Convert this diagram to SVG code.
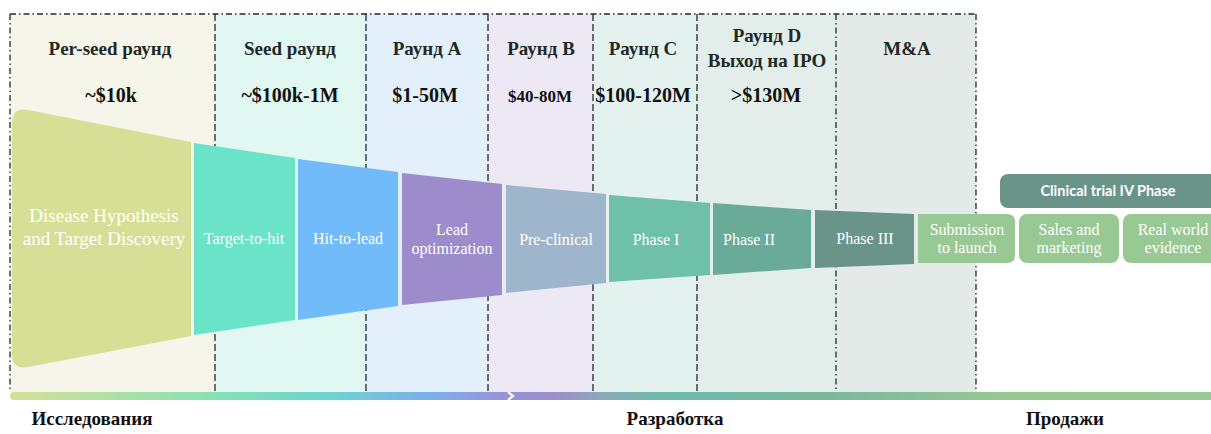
<svg xmlns="http://www.w3.org/2000/svg" width="1211" height="434" viewBox="0 0 1211 434">
<defs>
<style>
.hdr{font-family:"Liberation Serif","Times New Roman",serif;font-weight:bold;font-size:19px;fill:#1f2a26;text-anchor:middle}
.amt{font-family:"Liberation Serif","Times New Roman",serif;font-weight:bold;font-size:20px;fill:#111;text-anchor:middle}
.lbl{font-family:"Liberation Serif","Times New Roman",serif;font-size:16px;fill:#ffffff;text-anchor:middle}
.big{font-size:19px}
.stage{font-family:"Liberation Serif","Times New Roman",serif;font-weight:bold;font-size:19px;fill:#111;text-anchor:middle}
.div{stroke:#1f2a2e;stroke-width:1.3;fill:none;stroke-dasharray:7 3}
.dd{stroke:#1f2a2e;stroke-width:1.3;fill:none;stroke-dasharray:6 3 1.5 3}
.ct{font-family:Lato,"Open Sans",sans-serif;font-weight:bold;font-size:14.5px;fill:#ffffff;text-anchor:middle}
</style>
<linearGradient id="barg" x1="10" y1="0" x2="1211" y2="0" gradientUnits="userSpaceOnUse">
<stop offset="0" stop-color="#d6df96"/>
<stop offset="0.16" stop-color="#8ae2b2"/>
<stop offset="0.26" stop-color="#6dd5cd"/>
<stop offset="0.35" stop-color="#7ab0ec"/>
<stop offset="0.41" stop-color="#9a92d8"/>
<stop offset="0.45" stop-color="#9d8ecc"/>
<stop offset="0.50" stop-color="#88aabb"/>
<stop offset="0.54" stop-color="#6cbba8"/>
<stop offset="0.68" stop-color="#7ab89e"/>
<stop offset="0.83" stop-color="#96c892"/>
<stop offset="1" stop-color="#98c893"/>
</linearGradient>
</defs>

<g id="columns">
<rect x="10" y="14" width="205" height="378" fill="#f5f5ea"/>
<rect x="215" y="14" width="151" height="378" fill="#e1f7f1"/>
<rect x="366" y="14" width="122" height="378" fill="#e3effb"/>
<rect x="488" y="14" width="105" height="378" fill="#ece8f4"/>
<rect x="593" y="14" width="104" height="378" fill="#e3f2ee"/>
<rect x="697" y="14" width="139" height="378" fill="#e3ede9"/>
<rect x="836" y="14" width="140" height="378" fill="#e4eae8"/>
<line class="dd" x1="10" y1="14" x2="976" y2="14"/>
<line class="dd" x1="10" y1="14" x2="10" y2="392"/>
<line class="dd" x1="976" y1="14" x2="976" y2="392"/>
<line class="div" x1="215" y1="14" x2="215" y2="392"/>
<line class="div" x1="366" y1="14" x2="366" y2="392"/>
<line class="div" x1="488" y1="14" x2="488" y2="392"/>
<line class="div" x1="593" y1="14" x2="593" y2="392"/>
<line class="div" x1="697" y1="14" x2="697" y2="392"/>
<line class="dd" x1="836" y1="14" x2="836" y2="392"/>
</g>

<g id="headers">
<text class="hdr" x="110" y="55">Per-seed раунд</text>
<text class="amt" x="111" y="102">~$10k</text>
<text class="hdr" x="290" y="55">Seed раунд</text>
<text class="amt" x="290" y="102">~$100k-1M</text>
<text class="hdr" x="427" y="55">Раунд А</text>
<text class="amt" x="425" y="102">$1-50M</text>
<text class="hdr" x="541" y="55">Раунд В</text>
<text class="amt" x="540" y="102" style="font-size:17px">$40-80M</text>
<text class="hdr" x="643" y="55">Раунд С</text>
<text class="amt" x="643" y="102">$100-120M</text>
<text class="hdr" x="767" y="42">Раунд D</text>
<text class="hdr" x="767" y="67">Выход на IPO</text>
<text class="amt" x="766" y="102">&gt;$130M</text>
<text class="hdr" x="907" y="55">M&amp;A</text>
</g>

<g id="node-disease">
<path d="M191 142 L191 336 L28 367 Q12 370 12 354 L12 124 Q12 107 28 110 Z" fill="#d6df96"/>
<text class="lbl big" x="104" y="222">Disease Hypothesis</text>
<text class="lbl big" x="104" y="245">and Target Discovery</text>
</g>
<g id="node-target">
<polygon points="194,143 295,158 295,320 194,335" fill="#6be3c8"/>
<text class="lbl" x="244" y="244">Target-to-hit</text>
</g>
<g id="node-hit">
<polygon points="298,159 398,172 398,306 298,320" fill="#72bbfb"/>
<text class="lbl" x="348" y="244">Hit-to-lead</text>
</g>
<g id="node-lead">
<polygon points="402,173 502,184 502,295 402,305" fill="#9c8ccb"/>
<text class="lbl" x="452" y="235">Lead</text>
<text class="lbl" x="452" y="254">optimization</text>
</g>
<g id="node-preclinical">
<polygon points="506,185 606,194 606,283 506,293" fill="#9fb5cb"/>
<text class="lbl" x="556" y="245">Pre-clinical</text>
</g>
<g id="node-phase1">
<polygon points="609,195 710,203 710,275 609,282" fill="#6fc0a9"/>
<text class="lbl" x="656" y="245">Phase I</text>
</g>
<g id="node-phase2">
<polygon points="713,203 811,210 811,268 713,275" fill="#6aab98"/>
<text class="lbl" x="749" y="245">Phase II</text>
</g>
<g id="node-phase3">
<polygon points="815,210 914,214 914,264 815,268" fill="#6b9488"/>
<text class="lbl" x="865" y="244">Phase III</text>
</g>
<g id="node-submission">
<path d="M918 214 L1007 214 Q1015 214 1015 222 L1015 255 Q1015 263 1007 263 L918 263 Z" fill="#98c893"/>
<text class="lbl" x="967" y="235">Submission</text>
<text class="lbl" x="967" y="253">to launch</text>
</g>
<g id="node-sales">
<rect x="1019" y="214" width="100" height="49" rx="8" fill="#98c893"/>
<text class="lbl" x="1069" y="235">Sales and</text>
<text class="lbl" x="1069" y="253">marketing</text>
</g>
<g id="node-rwe">
<rect x="1123" y="214" width="96" height="49" rx="8" fill="#98c893"/>
<text class="lbl" x="1173" y="235">Real world</text>
<text class="lbl" x="1173" y="253">evidence</text>
</g>
<g id="node-clinical4">
<rect x="1000" y="174" width="220" height="34" rx="8" fill="#6b9489"/>
<text class="ct" x="1108" y="196">Clinical trial IV Phase</text>
</g>

<g id="connectors">
<path d="M14 392 L1211 392 L1211 400 L14 400 Q10 400 10 396 Q10 392 14 392 Z" fill="url(#barg)"/>
<polyline points="508,392 513,396 508,400" fill="none" stroke="#ffffff" stroke-width="2.2"/>
</g>

<g id="stages">
<text class="stage" x="92" y="425">Исследования</text>
<text class="stage" x="675" y="425">Разработка</text>
<text class="stage" x="1065" y="425">Продажи</text>
</g>
</svg>
